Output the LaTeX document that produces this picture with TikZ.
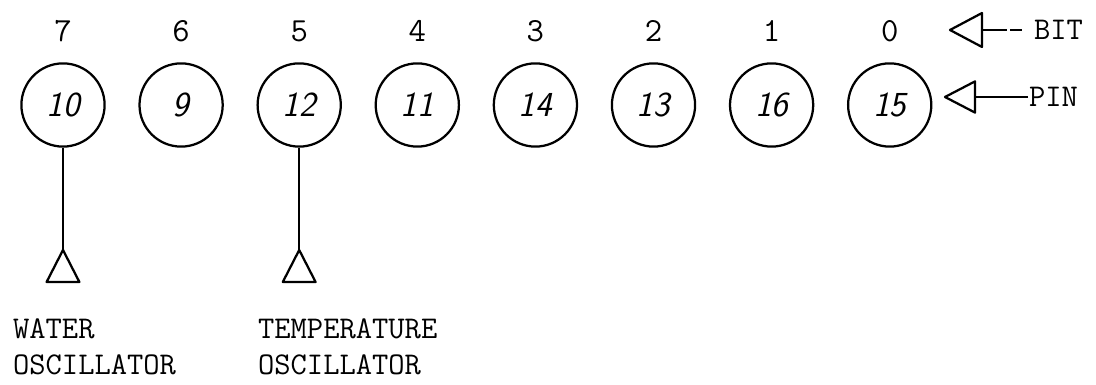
\documentclass[tikz,border=0pt]{standalone}
\usepackage{fontspec}
\begin{document}
\begin{tikzpicture}[line width=1.6pt,
    pinc/.style={draw,circle,minimum size=2.08cm,inner sep=0pt,
      font=\fontsize{25}{30}\sffamily\itshape},
    bitno/.style={font=\fontsize{24}{28}\ttfamily},
    lbl/.style={font=\fontsize{22.5}{25.5}\ttfamily,inner sep=0pt,align=left}]
  \useasboundingbox (0,0) rectangle (27.4,9.625);
  \def\xo{1.575} % first pin
  \def\dx{2.9525} % pin spacing
  \def\yc{7}
  \foreach \pin [count=\i from 0, evaluate=\i as \bit using int(7-\i)] in {10,9,12,11,14,13,16,15}{
    \node[pinc] (c\i) at ({\xo+\dx*\i},\yc) {\pin};
    \node[bitno] (b\i) at ({\xo+\dx*\i},8.85) {\bit};
  }
  % oscillator inputs
  \foreach \i/\n in {0/w,2/t}{
    \coordinate (\n) at ({\xo+\dx*\i},3.375);
    \draw (c\i.south) -- (\n);
    \draw[line join=round] (\n) -- ++(-0.41,-0.8) -- ++(0.82,0) -- cycle;
  }
  \node[lbl,anchor=north west] (wl) at (0.3,1.675) {WATER\\OSCILLATOR};
  \node[lbl,anchor=north west] (tl) at (6.425,1.675) {TEMPERATURE\\OSCILLATOR};
  % key
  \node[lbl,anchor=west] (bitl) at (25.825,8.875) {BIT};
  \node[lbl,anchor=west] (pinl) at (25.7,7.2) {PIN};
  \coordinate (bb) at (24.55,8.875);
  \coordinate (pb) at (24.375,7.2);
  \draw[dash pattern=on 0.62cm off 0.08cm on 0.3cm off 1cm] (bb) -- ++(1,0);
  \draw[line join=round] (bb) ++(0,0.425) -- ++(-0.8,-0.425) -- ++(0.8,-0.425) -- cycle;
  \draw (pinl.west) -- (pb);
  \draw[line join=round] (pb) ++(0,0.39) -- ++(-0.75,-0.39) -- ++(0.75,-0.39) -- cycle;
\end{tikzpicture}
\end{document}
